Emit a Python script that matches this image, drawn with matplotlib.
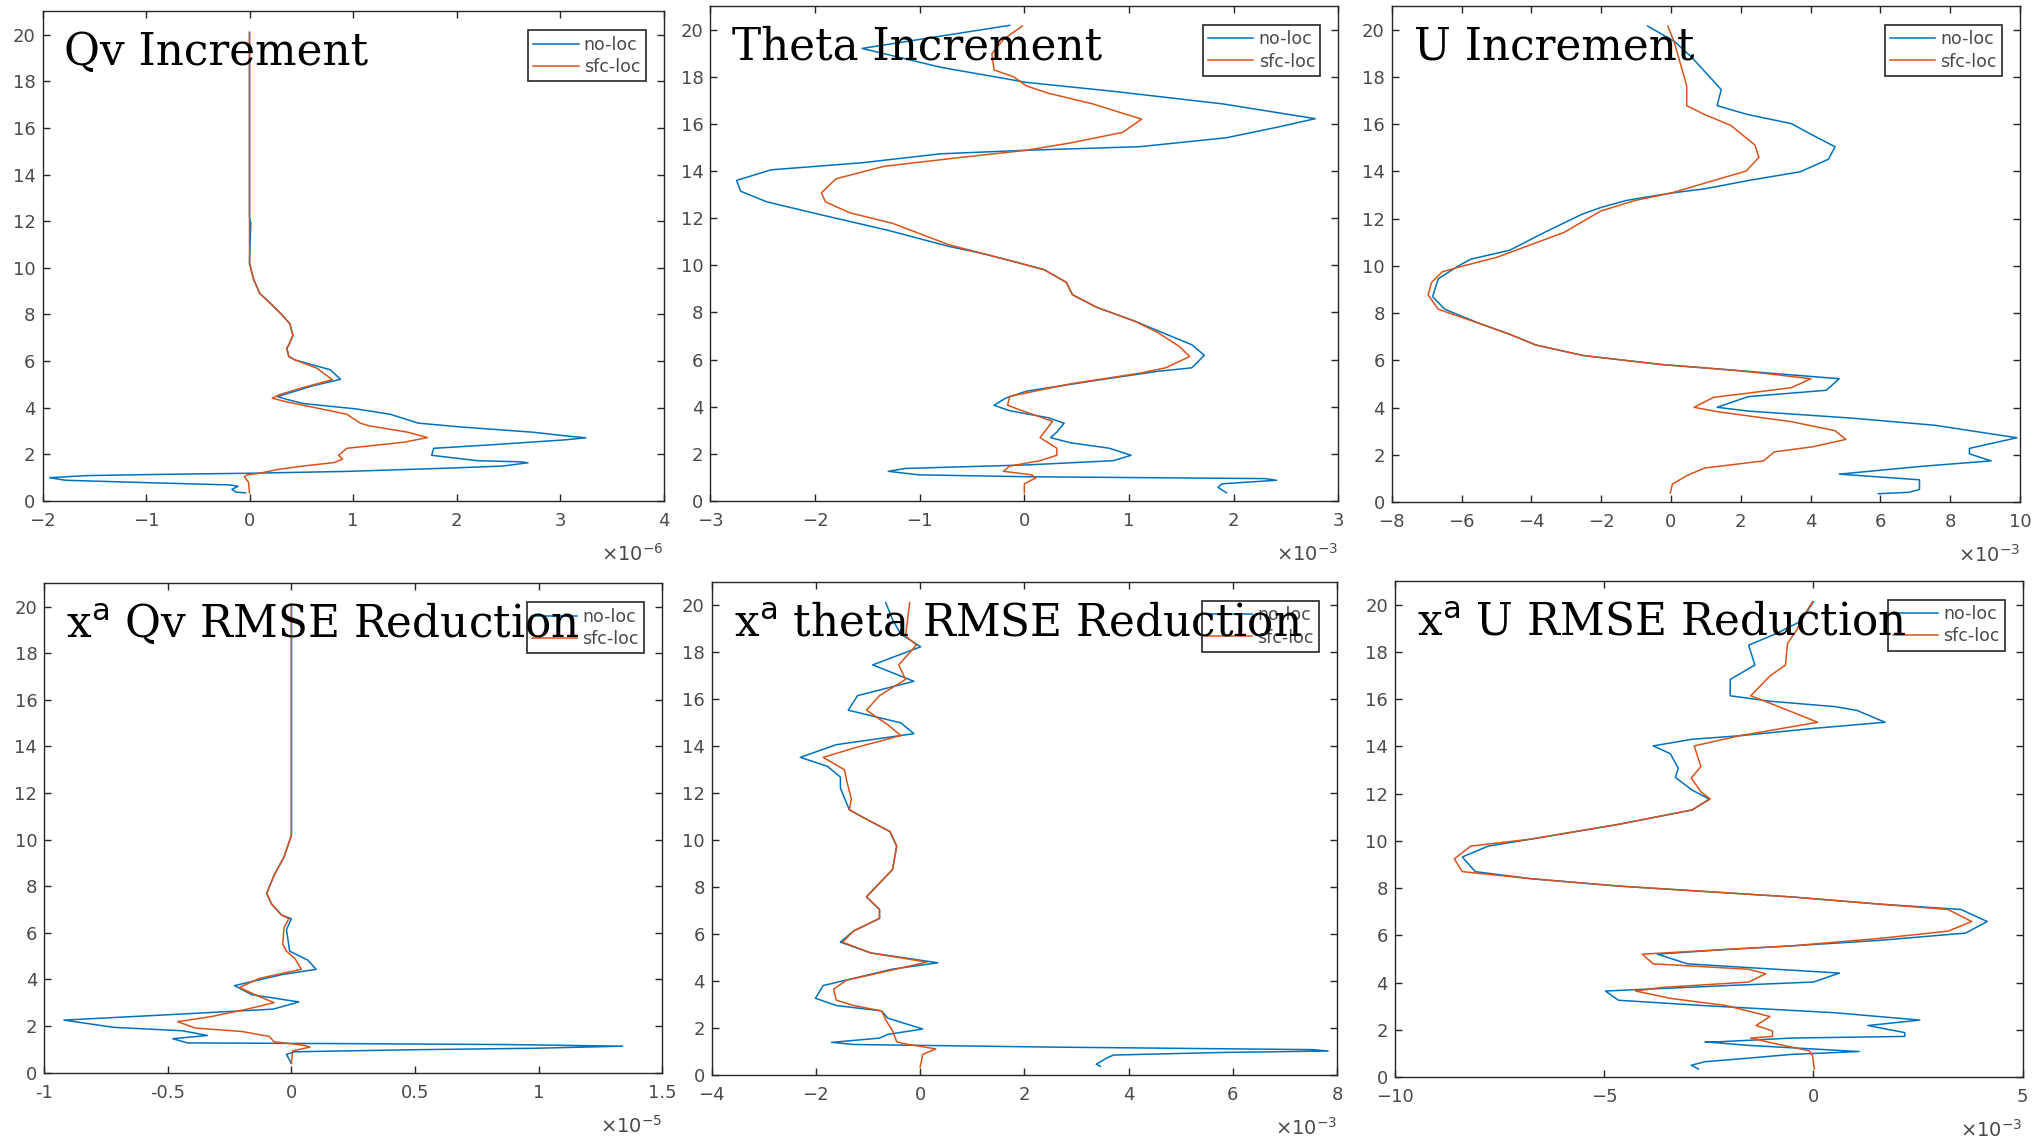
"""Vertical profiles of analysis increments and RMSE reduction (no-loc vs sfc-loc)."""
import matplotlib
matplotlib.use("Agg")
import matplotlib.pyplot as plt

# ---- data (x in units of the axis exponent, z = height) ----
# Qv increment (x1e-6)
qv_inc_noloc_x = [0, 0, 0.012, 0.0, 0.04, 0.1, 0.22, 0.31, 0.39, 0.42, 0.38, 0.36, 0.38, 0.44,
                  0.78, 0.88, 0.61, 0.27, 0.36, 0.52, 1.03, 1.36, 1.63, 2.03, 2.74, 3.04, 3.25,
                  3.04, 2.37, 1.78, 1.76, 2.2, 2.62, 2.69, 2.45, 1.99, 0.94, 0, -0.73, -1.57,
                  -1.93, -1.78, -0.94, -0.19, -0.11, -0.17, -0.13, -0.04]
qv_inc_noloc_z = [20.1, 12.2, 11.9, 10.2, 9.5, 8.9, 8.4, 8.0, 7.6, 7.1, 6.7, 6.55, 6.2, 6.05,
                  5.63, 5.22, 4.94, 4.48, 4.36, 4.18, 3.95, 3.72, 3.34, 3.18, 2.95, 2.8, 2.71,
                  2.62, 2.42, 2.26, 1.96, 1.73, 1.68, 1.64, 1.5, 1.42, 1.27, 1.19, 1.15, 1.09,
                  1.0, 0.89, 0.78, 0.69, 0.63, 0.5, 0.38, 0.35]
qv_inc_sfcloc_x = [0, 0, 0.04, 0.1, 0.22, 0.31, 0.39, 0.42, 0.38, 0.36, 0.38, 0.44, 0.65, 0.80,
                   0.52, 0.29, 0.22, 0.36, 0.78, 0.94, 1.07, 1.15, 1.53, 1.72, 1.49, 0.94, 0.86,
                   0.9, 0.82, 0.52, 0.27, 0.10, -0.02, -0.05, -0.01, 0]
qv_inc_sfcloc_z = [20.1, 10.2, 9.5, 8.9, 8.4, 8.0, 7.6, 7.1, 6.7, 6.55, 6.2, 6.05, 5.7, 5.2,
                   4.87, 4.56, 4.41, 4.25, 3.87, 3.72, 3.34, 3.23, 2.95, 2.72, 2.52, 2.26, 1.96,
                   1.8, 1.65, 1.5, 1.35, 1.19, 1.12, 1.04, 0.81, 0.35]

# Theta increment (x1e-3)
th_inc_noloc_x = [-0.14, -1.55, -0.8, 0.02, 0.85, 1.89, 2.78, 2.43, 1.93, 1.1, 0.02, -0.8, -1.55,
                  -2.42, -2.75, -2.71, -2.46, -1.96, -1.30, -0.72, -0.39, -0.06, 0.19, 0.40, 0.46,
                  0.69, 1.06, 1.31, 1.60, 1.72, 1.60, 1.27, 0.69, 0.02, -0.18, -0.29, -0.14, 0.23,
                  0.38, 0.31, 0.25, 0.44, 0.81, 1.02, 0.85, 0.02, -1.14, -1.30, -1.01, 0.02, 2.30,
                  2.41, 1.89, 1.85, 1.93]
th_inc_noloc_z = [20.18, 19.2, 18.4, 17.76, 17.38, 16.85, 16.22, 15.87, 15.41, 15.03, 14.88, 14.73,
                  14.35, 14.05, 13.6, 13.14, 12.69, 12.16, 11.48, 10.8, 10.49, 10.11, 9.81, 9.28,
                  8.75, 8.22, 7.62, 7.16, 6.63, 6.18, 5.65, 5.50, 5.12, 4.66, 4.36, 4.06, 3.83,
                  3.53, 3.30, 2.92, 2.69, 2.47, 2.24, 1.94, 1.71, 1.53, 1.38, 1.26, 1.11, 1.03,
                  0.95, 0.88, 0.73, 0.58, 0.35]
th_inc_sfcloc_x = [-0.02, -0.2, -0.31, -0.29, -0.10, 0.02, 0.23, 0.65, 1.12, 0.94, 0.44, 0.02,
                   -0.60, -1.34, -1.80, -1.94, -1.90, -1.67, -1.26, -0.72, -0.39, -0.06, 0.19,
                   0.40, 0.46, 0.69, 1.06, 1.27, 1.48, 1.58, 1.35, 1.10, 0.44, -0.14, -0.16,
                   -0.02, 0.27, 0.15, 0.31, 0.31, 0.15, -0.14, -0.20, 0.07, 0.11, 0.0, 0.0]
th_inc_sfcloc_z = [20.15, 19.58, 18.97, 18.29, 17.99, 17.61, 17.3, 16.85, 16.2, 15.64, 15.19,
                   14.88, 14.58, 14.2, 13.67, 13.07, 12.69, 12.23, 11.78, 10.87, 10.49, 10.11,
                   9.81, 9.28, 8.75, 8.22, 7.62, 7.16, 6.56, 6.13, 5.65, 5.42, 4.97, 4.44, 4.06,
                   3.83, 3.38, 2.69, 2.24, 1.94, 1.71, 1.48, 1.26, 1.11, 0.98, 0.73, 0.35]

# U increment (x1e-3)
u_inc_noloc_x = [-0.67, 0.10, 0.60, 0.97, 1.44, 1.32, 2.21, 3.45, 4.01, 4.70, 4.51, 3.70, 2.21,
                 0.97, 0, -1.27, -2.01, -2.57, -3.63, -4.62, -5.74, -6.11, -6.67, -6.83, -6.48,
                 -5.49, -4.62, -3.88, -2.51, -0.27, 1.71, 2.96, 4.82, 4.45, 2.21, 1.32, 2.21,
                 5.19, 7.55, 9.91, 8.55, 8.55, 9.17, 7.18, 4.82, 7.12, 7.12, 6.81, 5.94]
u_inc_noloc_z = [20.15, 19.5, 18.82, 18.22, 17.46, 16.78, 16.4, 16.02, 15.57, 15.04, 14.51, 13.98,
                 13.61, 13.26, 13.08, 12.77, 12.47, 12.17, 11.41, 10.66, 10.28, 9.98, 9.45, 8.69,
                 8.16, 7.56, 7.1, 6.65, 6.2, 5.82, 5.59, 5.44, 5.22, 4.73, 4.46, 4.01, 3.85, 3.55,
                 3.25, 2.72, 2.27, 2.04, 1.74, 1.51, 1.18, 0.94, 0.53, 0.41, 0.35]
u_inc_sfcloc_x = [-0.09, 0.10, 0.29, 0.45, 0.45, 0.97, 1.71, 2.40, 2.52, 2.15, 1.22, 0, -1.02,
                  -2.01, -3.07, -4.99, -5.99, -6.55, -6.86, -6.96, -6.67, -5.49, -4.62, -3.88,
                  -2.51, -0.27, 1.71, 2.71, 4.01, 3.45, 2.21, 1.22, 0.66, 1.34, 3.45, 4.70, 5.01,
                  4.07, 2.96, 2.65, 0.97, 0.47, 0.04, -0.02]
u_inc_sfcloc_z = [20.15, 19.43, 18.45, 17.61, 16.78, 16.4, 15.95, 15.12, 14.59, 14.01, 13.61,
                  13.08, 12.77, 12.32, 11.41, 10.36, 9.98, 9.75, 9.3, 8.77, 8.16, 7.56, 7.1, 6.65,
                  6.2, 5.82, 5.59, 5.44, 5.22, 4.84, 4.61, 4.43, 4.01, 3.82, 3.4, 3.02, 2.65,
                  2.34, 2.12, 1.74, 1.44, 1.13, 0.76, 0.38]

# Qv RMSE reduction (x1e-5)
qv_rmse_noloc_x = [0, 0, -0.03, -0.07, -0.10, -0.08, -0.04, 0.0, -0.02, -0.007, 0.067, 0.10,
                   -0.04, -0.17, -0.23, -0.16, 0.03, -0.074, -0.48, -0.92, -0.72, -0.44, -0.34,
                   -0.48, -0.42, 0.21, 0.87, 1.34, 0.98, 0.51, 0.014, -0.02, 0]
qv_rmse_noloc_z = [20.1, 10.18, 9.25, 8.47, 7.69, 7.23, 6.76, 6.6, 6.14, 5.21, 4.82, 4.43, 4.2,
                   3.88, 3.73, 3.34, 3.03, 2.72, 2.49, 2.25, 1.94, 1.79, 1.59, 1.45, 1.27, 1.24,
                   1.2, 1.13, 1.04, 0.98, 0.89, 0.78, 0.39]
qv_rmse_sfcloc_x = [0, 0, -0.03, -0.07, -0.10, -0.08, -0.04, -0.01, -0.03, -0.035, -0.02, 0.014,
                    0.04, -0.13, -0.21, -0.13, -0.07, -0.18, -0.32, -0.46, -0.39, -0.20, -0.09,
                    -0.07, 0.05, 0.075, 0.005, 0]
qv_rmse_sfcloc_z = [20.1, 10.18, 9.25, 8.47, 7.69, 7.23, 6.76, 6.6, 6.22, 5.52, 5.21, 4.9, 4.43,
                    4.04, 3.65, 3.26, 3.0, 2.72, 2.41, 2.18, 1.91, 1.76, 1.55, 1.32, 1.17, 1.09,
                    0.93, 0.39]

# theta RMSE reduction (x1e-3)
th_rmse_noloc_x = [-0.66, -0.53, -0.37, 0.01, -0.91, -0.12, -1.20, -1.38, -0.37, -0.12, -1.61,
                   -2.30, -1.78, -1.53, -1.53, -1.36, -1.11, -0.58, -0.45, -0.53, -1.03, -0.78,
                   -0.78, -1.28, -1.53, -0.95, 0.34, -0.53, -1.86, -2.01, -1.61, -0.74, -0.62,
                   0.05, -0.62, -0.78, -1.70, -1.28, 2.46, 7.54, 7.83, 5.79, 3.71, 3.59, 3.38,
                   3.46]
th_rmse_noloc_z = [20.12, 19.4, 18.78, 18.24, 17.47, 16.77, 16.16, 15.54, 15.0, 14.54, 14.07,
                   13.53, 13.15, 12.69, 12.22, 11.30, 10.99, 10.37, 9.75, 8.75, 7.59, 7.05, 6.67,
                   6.13, 5.66, 5.2, 4.78, 4.51, 3.81, 3.27, 2.96, 2.73, 2.42, 1.96, 1.73, 1.57,
                   1.39, 1.3, 1.19, 1.08, 1.02, 0.96, 0.85, 0.73, 0.46, 0.37]
th_rmse_sfcloc_x = [-0.2, -0.28, -0.07, -0.41, -0.28, -0.78, -1.03, -0.62, -0.37, -1.28, -1.86,
                    -1.45, -1.41, -1.32, -1.36, -1.11, -0.58, -0.45, -0.53, -1.03, -0.78, -0.78,
                    -1.28, -1.49, -0.95, 0.13, -0.62, -1.41, -1.66, -1.61, -1.28, -0.74, -0.66,
                    -0.53, -0.45, -0.32, 0.30, 0.05, 0]
th_rmse_sfcloc_z = [20.12, 18.7, 18.32, 17.47, 16.85, 16.16, 15.54, 14.92, 14.46, 13.92, 13.53,
                    13.0, 12.53, 11.76, 11.3, 10.99, 10.37, 9.75, 8.75, 7.59, 7.05, 6.67, 6.13,
                    5.66, 5.2, 4.81, 4.43, 4.04, 3.66, 3.19, 2.96, 2.73, 2.35, 1.88, 1.42, 1.34,
                    1.11, 0.88, 0.34]

# U RMSE reduction (x1e-3)
u_rmse_noloc_x = [0, -0.31, -0.93, -1.55, -1.40, -1.99, -1.99, -1.04, 0.52, 1.04, 1.71, 0,
                  -1.76, -2.90, -3.83, -3.42, -3.23, -3.30, -2.90, -2.49, -2.90, -4.66, -6.74,
                  -7.77, -8.39, -8.08, -6.74, -4.66, -0.52, 1.55, 3.52, 4.15, 3.63, 1.55, -0.52,
                  -2.07, -3.73, -3.01, -1.55, 0.62, 0, -2.07, -4.97, -4.66, -2.59, 0.52, 2.54,
                  1.30, 2.18, 2.18, -0.52, -2.28, -2.59, -1.55, 1.09, -0.52, -1.55, -2.59,
                  -2.92, -2.75]
u_rmse_noloc_z = [20.12, 19.28, 18.74, 18.28, 17.44, 16.83, 16.14, 15.91, 15.68, 15.52, 15.02,
                  14.76, 14.45, 14.3, 14.02, 13.69, 13.07, 12.69, 12.15, 11.77, 11.31, 10.7,
                  10.08, 9.78, 9.32, 8.7, 8.4, 8.09, 7.63, 7.33, 7.1, 6.59, 6.1, 5.79, 5.56,
                  5.41, 5.21, 4.8, 4.64, 4.41, 4.03, 3.88, 3.65, 3.26, 3.03, 2.73, 2.42, 2.19,
                  1.89, 1.73, 1.66, 1.5, 1.5, 1.35, 1.09, 0.97, 0.81, 0.66, 0.51, 0.35]
u_rmse_sfcloc_x = [-0.02, -0.21, -0.41, -0.62, -0.67, -1.04, -1.50, -0.93, 0.10, -1.76, -2.85,
                   -2.69, -2.92, -2.69, -2.47, -2.90, -4.66, -6.74, -8.19, -8.58, -8.39, -6.74,
                   -4.66, -0.52, 1.55, 3.21, 3.78, 3.21, 1.55, -0.52, -2.07, -4.09, -3.83,
                   -1.55, -1.14, -1.55, -3.63, -4.25, -3.42, -2.07, -1.04, -1.37, -0.98, -0.98,
                   -1.50, -0.93, -0.10, -0.02, 0.02]
u_rmse_sfcloc_z = [20.12, 19.59, 18.9, 18.36, 17.44, 16.98, 16.14, 15.75, 15.02, 14.45, 14.02,
                   13.15, 12.66, 12.08, 11.77, 11.31, 10.7, 10.08, 9.78, 9.24, 8.7, 8.4, 8.09,
                   7.63, 7.33, 7.1, 6.59, 6.18, 5.87, 5.56, 5.41, 5.21, 4.8, 4.57, 4.38, 4.03,
                   3.8, 3.65, 3.34, 3.03, 2.57, 2.19, 1.96, 1.73, 1.66, 1.43, 1.12, 0.89, 0.35]

# ---- panel setup ----
panels = [
    # title, noloc, sfcloc, xlim, xticks, xtick labels, exponent, axes box in pixels (l, r, t, b)
    ("Qv Increment", (qv_inc_noloc_x, qv_inc_noloc_z), (qv_inc_sfcloc_x, qv_inc_sfcloc_z),
     (-2, 4), [-2, -1, 0, 1, 2, 3, 4], None, "-6", (42.5, 663.5, 11.4, 501)),
    ("Theta Increment", (th_inc_noloc_x, th_inc_noloc_z), (th_inc_sfcloc_x, th_inc_sfcloc_z),
     (-3, 3), [-3, -2, -1, 0, 1, 2, 3], None, "-3", (710.4, 1338.3, 6, 501)),
    ("U Increment", (u_inc_noloc_x, u_inc_noloc_z), (u_inc_sfcloc_x, u_inc_sfcloc_z),
     (-8, 10), [-8, -6, -4, -2, 0, 2, 4, 6, 8, 10], None, "-3", (1391.8, 2020, 6, 502)),
    (r"x$^{\mathsf{a}}$ Qv RMSE Reduction", (qv_rmse_noloc_x, qv_rmse_noloc_z),
     (qv_rmse_sfcloc_x, qv_rmse_sfcloc_z),
     (-1, 1.5), [-1, -0.5, 0, 0.5, 1, 1.5], ["-1", "-0.5", "0", "0.5", "1", "1.5"], "-5",
     (44.2, 662.2, 583.4, 1072.5)),
    (r"x$^{\mathsf{a}}$ theta RMSE Reduction", (th_rmse_noloc_x, th_rmse_noloc_z),
     (th_rmse_sfcloc_x, th_rmse_sfcloc_z),
     (-4, 8), [-4, -2, 0, 2, 4, 6, 8], None, "-3", (711.7, 1337, 582, 1075)),
    (r"x$^{\mathsf{a}}$ U RMSE Reduction", (u_rmse_noloc_x, u_rmse_noloc_z),
     (u_rmse_sfcloc_x, u_rmse_sfcloc_z),
     (-10, 5), [-10, -5, 0, 5], None, "-3", (1394.9, 2022.8, 580.9, 1077.3)),
]

W, H = 2038, 1139
BLUE = "#0072BD"
ORANGE = "#D95319"
TICK_GRAY = "#4a4a4a"

fig = plt.figure(figsize=(W / 100, H / 100), dpi=100)

for title, noloc, sfcloc, xlim, xticks, xlabels, expo, box in panels:
    l, r, t, b = box
    ax = fig.add_axes([l / W, (H - b) / H, (r - l) / W, (b - t) / H])
    ax.plot(noloc[0], noloc[1], color=BLUE, lw=1.1, label="no-loc")
    ax.plot(sfcloc[0], sfcloc[1], color=ORANGE, lw=1.1, label="sfc-loc")
    ax.set_xlim(*xlim)
    ax.set_ylim(0, 21)
    ax.set_xticks(xticks)
    if xlabels is not None:
        ax.set_xticklabels(xlabels)
    ax.set_yticks(range(0, 21, 2))
    ax.tick_params(direction="in", top=True, right=True, length=5, width=1,
                   labelsize=13, labelcolor=TICK_GRAY, color="#262626")
    ax.tick_params(axis="x", pad=8)
    ax.tick_params(axis="y", pad=5)
    for sp in ax.spines.values():
        sp.set_color("#262626")
        sp.set_linewidth(1.0)

    # legend in upper right
    aw, ah = r - l, b - t
    leg = ax.legend(loc="upper right", bbox_to_anchor=(1 - 18 / aw, 1 - 19 / ah),
                    borderaxespad=0, fontsize=12.5, frameon=True, fancybox=False,
                    edgecolor="#262626", framealpha=1, handlelength=2.6,
                    handletextpad=0.3, labelspacing=0.25, borderpad=0.3)
    leg.get_frame().set_linewidth(1.2)
    for txt in leg.get_texts():
        txt.set_color(TICK_GRAY)

    # big serif title inside the axes
    ax.text(22 / aw, 1 - 54 / ah, title, transform=ax.transAxes, fontsize=31.5,
            family="DejaVu Serif", va="baseline", ha="left", zorder=10)

    # exponent label below the x axis
    ax.annotate(r"$\times10^{" + expo + "}$", xy=(1, 0), xycoords="axes fraction",
                xytext=(0, -42), textcoords="offset pixels", ha="right", va="top",
                fontsize=14, color=TICK_GRAY)

fig.savefig("out.png", dpi=100)
